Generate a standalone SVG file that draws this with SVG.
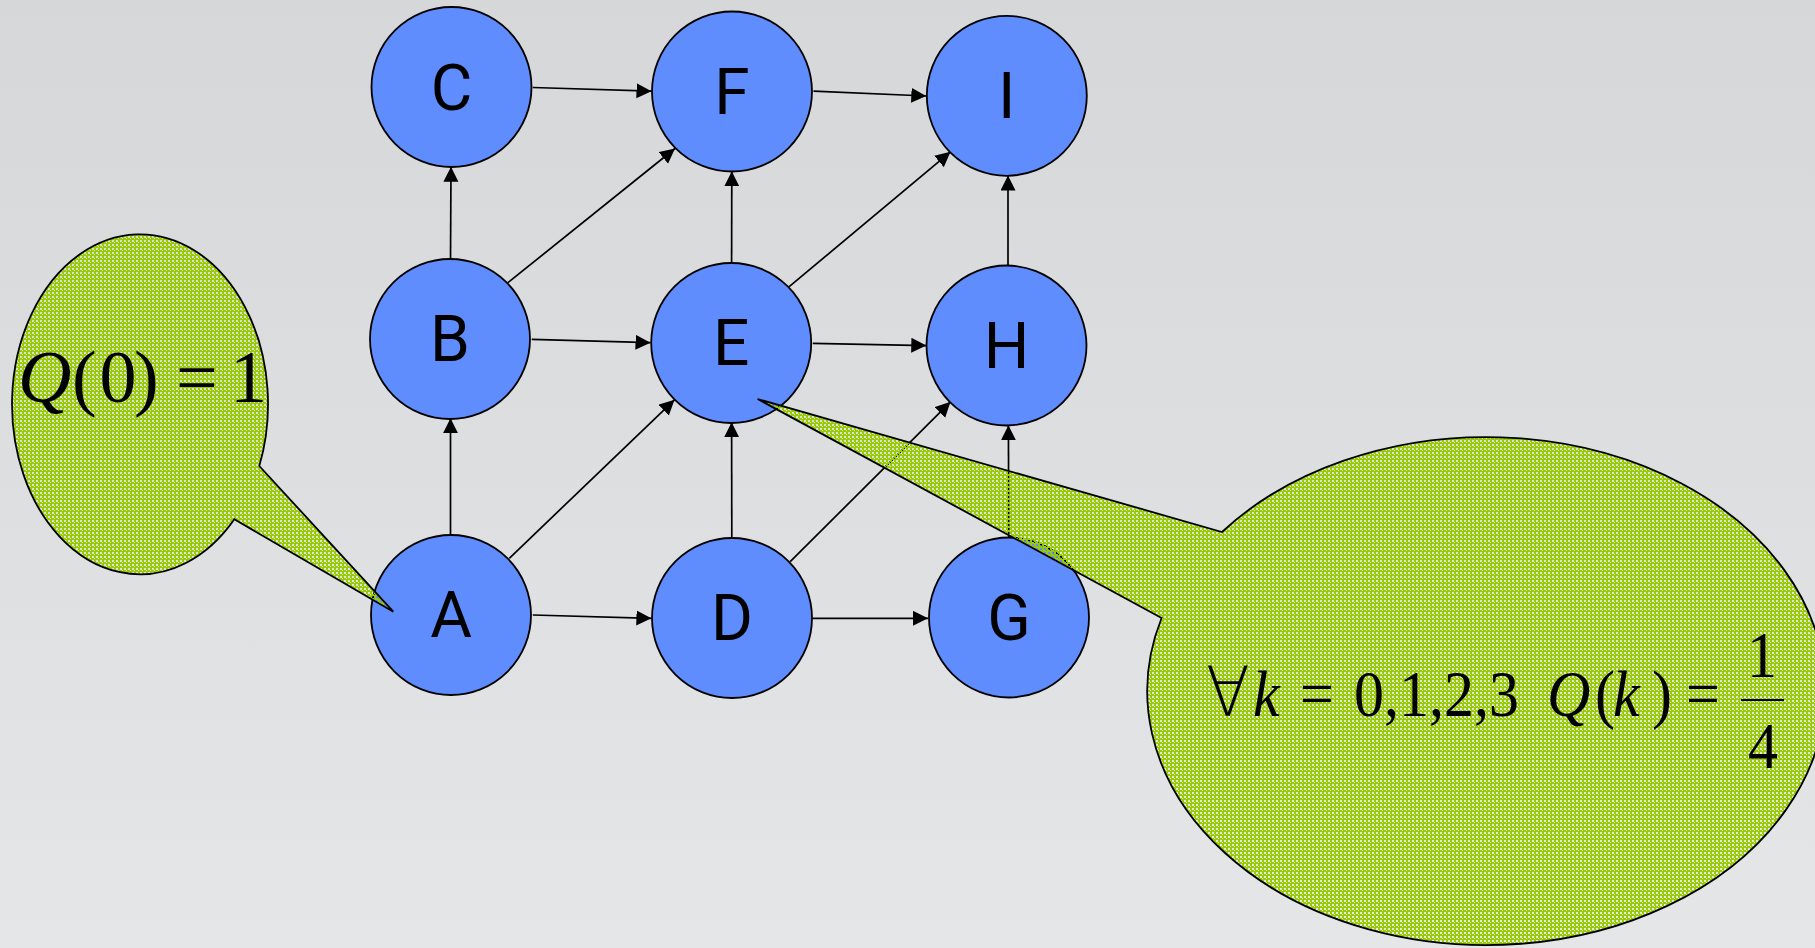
<svg xmlns="http://www.w3.org/2000/svg" width="1815" height="948" viewBox="0 0 1815 948">
  <defs>
    <linearGradient id="bg" x1="0" y1="0" x2="0" y2="1">
      <stop offset="0" stop-color="#d6d7d9"/>
      <stop offset="1" stop-color="#e5e6e8"/>
    </linearGradient>
    <!-- green checker fill, open cells let the layers below show through -->
    <pattern id="checker" x="0" y="0" width="4" height="4" patternUnits="userSpaceOnUse">
      <path d="M0,0H4V4H0Z M0,0H2V2H0Z M2,2H3V3H2Z" fill="#99cc00" fill-rule="evenodd"/>
    </pattern>
    <marker id="arrow" markerUnits="userSpaceOnUse" markerWidth="16" markerHeight="16" refX="15" refY="7.5" orient="auto">
      <path d="M0,0 L15,7.5 L0,15 Z" fill="#000"/>
    </marker>
    <style>
      .node circle { fill: #5f8dfe; stroke: #000; stroke-width: 1.8; }
      .node text { font-family: Roboto, "Liberation Sans", sans-serif; font-size: 64px; fill: #000; text-anchor: middle; }
      .edges line { stroke: #000; stroke-width: 1.7; marker-end: url(#arrow); }
      .callout path { fill: url(#checker); stroke: #000; stroke-width: 1.8; stroke-linejoin: miter; }
      .math { font-family: "Liberation Serif", "Times New Roman", "DejaVu Serif", serif; fill: #000; }
      .it { font-style: italic; }
      .forall { font-family: "DejaVu Sans", sans-serif; font-weight: 200; }
    </style>
  </defs>

  <rect x="0" y="0" width="1815" height="948" fill="url(#bg)"/>

  <g id="connectors" class="edges">
    <line x1="532.8" y1="87.5" x2="651.5" y2="91.2"/>
    <line x1="813.5" y1="91.2" x2="926.3" y2="96"/>
    <line x1="450.5" y1="260" x2="451" y2="166.8"/>
    <line x1="507.9" y1="282.7" x2="675" y2="148.5"/>
    <line x1="531.8" y1="339.3" x2="650.5" y2="342.7"/>
    <line x1="731.6" y1="263.5" x2="731.8" y2="171.3"/>
    <line x1="789.2" y1="286.7" x2="950.5" y2="151.8"/>
    <line x1="812.8" y1="343.3" x2="926.3" y2="345.6"/>
    <line x1="1008" y1="266" x2="1008" y2="175.6"/>
    <line x1="450.5" y1="535.7" x2="450.5" y2="418.2"/>
    <line x1="509.3" y1="558.3" x2="674.5" y2="399.8"/>
    <line x1="532.8" y1="615" x2="651.4" y2="618.3"/>
    <line x1="731.8" y1="538.4" x2="731.6" y2="422.3"/>
    <line x1="790.2" y1="561.7" x2="950.5" y2="401.8"/>
    <line x1="813" y1="618.3" x2="928" y2="618.3"/>
    <line x1="1008.8" y1="538.4" x2="1008.4" y2="425.3"/>
  </g>

  <g id="node-C" class="node"><circle cx="451.5" cy="87" r="80"/><text x="451.5" y="110">C</text></g>
  <g id="node-F" class="node"><circle cx="732" cy="91.5" r="80"/><text x="732" y="114">F</text></g>
  <g id="node-I" class="node"><circle cx="1006.8" cy="95.8" r="80"/><text x="1006.8" y="118">I</text></g>
  <g id="node-B" class="node"><circle cx="450" cy="339" r="80"/><text x="450" y="361">B</text></g>
  <g id="node-E" class="node"><circle cx="731.2" cy="343" r="80"/><text x="731.2" y="365">E</text></g>
  <g id="node-H" class="node"><circle cx="1006.5" cy="345.5" r="80"/><text x="1006.5" y="368">H</text></g>
  <g id="node-A" class="node"><circle cx="451" cy="615" r="80"/><text x="451" y="637">A</text></g>
  <g id="node-D" class="node"><circle cx="732" cy="618" r="80"/><text x="732" y="640">D</text></g>
  <g id="node-G" class="node"><circle cx="1009" cy="617.5" r="80"/><text x="1009" y="640">G</text></g>

  <!-- callout pointing at A -->
  <g id="callout-start" class="callout">
    <path d="M259.3,466 L393.3,611.7 L234.3,519.3 A128,170 0 1 1 259.3,466 Z"/>
    <text class="math" font-size="74" y="402">
      <tspan class="it" x="18">Q</tspan><tspan x="72">(</tspan><tspan x="99.5">0</tspan><tspan x="134">)</tspan><tspan x="176">=</tspan><tspan x="230">1</tspan>
    </text>
  </g>

  <!-- callout pointing at E -->
  <g id="callout-uniform" class="callout">
    <path d="M1161.6,618 L757.6,399 L1222,532 A339,254 0 1 1 1161.6,618 Z"/>
    <g transform="translate(0,716) scale(1,1.08)">
      <text class="math" font-size="60" y="0">
        <tspan class="forall" x="1206" font-size="64">∀</tspan><tspan class="it" x="1253">k</tspan><tspan x="1300">=</tspan><tspan x="1354">0,1,2,3</tspan><tspan class="it" x="1547">Q</tspan><tspan x="1595">(</tspan><tspan class="it" x="1613">k</tspan><tspan x="1652">)</tspan><tspan x="1686">=</tspan>
      </text>
    </g>
    <text class="math" font-size="60" x="1762" y="677" text-anchor="middle" transform="translate(0,-54) scale(1,1.08)">1</text>
    <line x1="1741" y1="700" x2="1784" y2="700" stroke="#000" stroke-width="2.2"/>
    <text class="math" font-size="60" x="1763" y="768" text-anchor="middle" transform="translate(0,-61) scale(1,1.08)">4</text>
  </g>
</svg>
